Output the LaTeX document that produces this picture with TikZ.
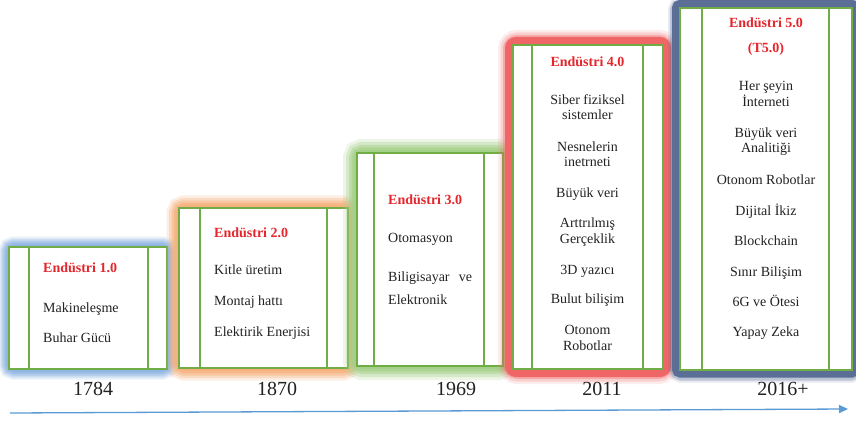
\documentclass[tikz,border=0pt]{standalone}
\usepackage{fontspec}
\setmainfont{Liberation Serif}
\usetikzlibrary{arrows.meta}
\definecolor{tred}{HTML}{E5262C}
\definecolor{gline}{HTML}{70AD47}
\definecolor{glowblue}{HTML}{8DB4E2}
\definecolor{gloworange}{HTML}{F6AE78}
\definecolor{glowgreen}{HTML}{A2CF86}
\definecolor{bandred}{HTML}{F06565}
\definecolor{bandblue}{HTML}{5A6E96}
\definecolor{arrowblue}{HTML}{5B9BD5}
\definecolor{txt}{HTML}{222222}
\tikzset{
  ttl/.style={anchor=base, font=\bfseries\fontsize{14}{16}\selectfont, text=tred, inner sep=0pt},
  ttlw/.style={ttl, anchor=base west},
  item/.style={anchor=base, font=\fontsize{14}{15.5}\selectfont, text=txt, inner sep=0pt, align=center},
  itemw/.style={item, anchor=base west, align=left},
  yearlbl/.style={anchor=base, font=\fontsize{20}{22}\selectfont, text=txt, inner sep=0pt},
  gbox/.style={draw=gline, line width=1.5pt, fill=white},
  gl/.style={draw=gline, line width=1.5pt},
  timeline/.style={draw=arrowblue, line width=1.3pt, -{Triangle[length=9pt,width=8pt]}}
}
\begin{document}
\begin{tikzpicture}[x=1pt,y=-1pt]
\useasboundingbox (0,0) rectangle (856,422);
\fill[white] (0,0) rectangle (856,422);

% ---------- Box 1 ----------
\foreach \w/\o in {21/0.2,17/0.3,13/0.45,9/0.6,5/0.8}
  \draw[draw=glowblue,line width=\w pt,opacity=\o,rounded corners=5pt] (9,247) rectangle (167,369);
\draw[gbox] (9,247) rectangle (167,369);
\draw[gl] (29,247) -- (29,369) (148,247) -- (148,369);
\node[ttlw] (t1) at (43,272.5) {Endüstri 1.0};
\node[itemw] (a1) at (43,312.5) {Makineleşme};
\node[itemw] (a2) at (43,342.5) {Buhar Gücü};

% ---------- Box 2 ----------
\foreach \w/\o in {25/0.2,20/0.3,15/0.45,10/0.6,5/0.8}
  \draw[draw=gloworange,line width=\w pt,opacity=\o,rounded corners=5pt] (179,208) rectangle (348,368);
\draw[gbox] (179,208) rectangle (348,368);
\draw[gl] (200,208) -- (200,368) (327,208) -- (327,368);
\node[ttlw] (t2) at (214,237.5) {Endüstri 2.0};
\node[itemw] (b1) at (214,274.5) {Kitle üretim};
\node[itemw] (b2) at (214,305.5) {Montaj hattı};
\node[itemw] (b3) at (214,336.5) {Elektirik Enerjisi};

% ---------- Box 3 ----------
\foreach \w/\o in {28/0.2,22/0.3,16/0.45,11/0.6,6/0.8}
  \draw[draw=glowgreen,line width=\w pt,opacity=\o,rounded corners=5pt] (357,153) rectangle (503,366);
\draw[gbox] (357,153) rectangle (503,366);
\draw[gl] (374,153) -- (374,366) (484,153) -- (484,366);
\node[ttlw] (t3) at (388,204.5) {Endüstri 3.0};
\node[itemw] (c1) at (388,242.5) {Otomasyon};
\node[anchor=base west, inner sep=0pt, text=txt, text width=84pt, align=justify,
      font=\fontsize{14}{23}\selectfont] (c2) at (388,281.5) {Biligisayar ve Elektronik};

% ---------- Box 4 ----------
\foreach \w/\o in {22/0.12,17/0.2,12/0.35}
  \draw[draw=bandred,line width=\w pt,opacity=\o,rounded corners=8pt] (509,41) rectangle (667,373);
\draw[draw=bandred,line width=8pt,rounded corners=7pt] (509,41) rectangle (667,373);
\draw[gbox] (513,45) rectangle (663,369);
\draw[gl] (532,45) -- (532,369) (643,45) -- (643,369);
\node[ttl] (t4) at (587.5,66.5) {Endüstri 4.0};
\node[item] (d1) at (587.5,120) {Siber fiziksel\\sistemler};
\node[item] (d2) at (587.5,167) {Nesnelerin\\inetrneti};
\node[item] (d3) at (587.5,197.5) {Büyük veri};
\node[item] (d4) at (587.5,243) {Arttrılmış\\Gerçeklik};
\node[item] (d5) at (587.5,274.5) {3D yazıcı};
\node[item] (d6) at (587.5,303.5) {Bulut bilişim};
\node[item] (d7) at (587.5,350) {Otonom\\Robotlar};

% ---------- Box 5 ----------
\foreach \w/\o in {16/0.15,12/0.3}
  \draw[draw=bandblue,line width=\w pt,opacity=\o,rounded corners=5pt] (676,5) rectangle (856,374.5);
\draw[draw=bandblue,line width=8pt,rounded corners=4pt] (676,4) rectangle (856,373.5);
\draw[gbox] (680,8) rectangle (852,370);
\draw[gl] (702,8) -- (702,370) (829,8) -- (829,370);
\node[ttl] (t5) at (766,27.5) {Endüstri 5.0};
\node[ttl] (t5b) at (766,52.5) {(T5.0)};
\node[item] (e1) at (766,106.5) {Her şeyin\\İnterneti};
\node[item] (e2) at (766,153) {Büyük veri\\Analitiği};
\node[item] (e3) at (766,184.5) {Otonom Robotlar};
\node[item] (e4) at (766,215.5) {Dijital İkiz};
\node[item] (e5) at (766,245.5) {Blockchain};
\node[item] (e6) at (766,276.5) {Sınır Bilişim};
\node[item] (e7) at (766,306.5) {6G ve Ötesi};
\node[item] (e8) at (766,336.5) {Yapay Zeka};

% ---------- Years ----------
\node[yearlbl] (y1) at (93,395) {1784};
\node[yearlbl] (y2) at (277,395) {1870};
\node[yearlbl] (y3) at (456,395) {1969};
\node[yearlbl] (y4) at (602,395) {2011};
\node[yearlbl] (y5) at (783,395) {2016+};

% ---------- Timeline arrow ----------
\coordinate (as) at (10,413);
\coordinate (ae) at (848,409);
\draw[timeline] (as) -- (ae);
\end{tikzpicture}
\end{document}
